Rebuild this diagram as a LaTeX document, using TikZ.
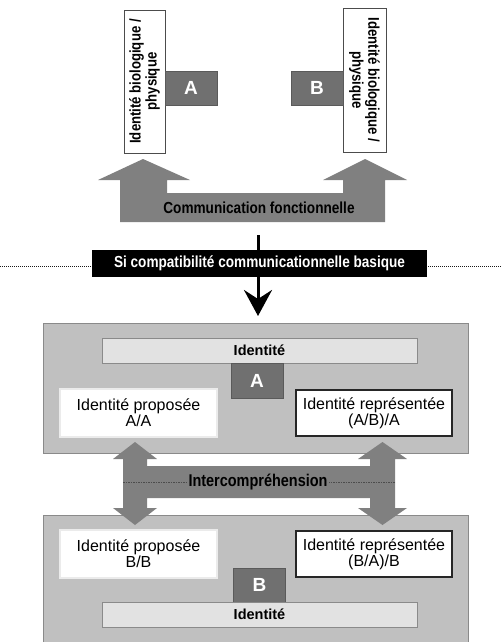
\documentclass[tikz,border=0pt]{standalone}
\usepackage{fontspec}
\setmainfont{Liberation Sans}
\newfontfamily\narrowfont[FakeStretch=0.85]{Liberation Sans}
\usetikzlibrary{arrows.meta}
\definecolor{darkbox}{HTML}{707070}
\definecolor{arrowgray}{HTML}{808080}
\definecolor{panel}{HTML}{C0C0C0}
\definecolor{panelline}{HTML}{8A8A8A}
\definecolor{idbar}{HTML}{E2E2E2}
\tikzset{
  letterbox/.style={draw=darkbox!80!black, fill=darkbox, text=white, inner sep=0pt,
    minimum width=52pt, minimum height=34pt, font=\bfseries\fontsize{19}{19}\selectfont},
  biobox/.style={draw=black!70, fill=white, inner sep=0pt, align=center,
    font=\narrowfont\bfseries\fontsize{15.5}{16}\selectfont},
  panelbox/.style={draw=panelline, fill=panel, line width=0.8pt},
  idbox/.style={draw=panelline, fill=idbar, line width=0.8pt, inner sep=0pt,
    minimum width=315pt, minimum height=25pt, font=\bfseries\fontsize{14.5}{14.5}\selectfont},
  propbox/.style={draw=black!8, fill=white, line width=2pt, inner sep=0pt, align=center,
    minimum width=157pt, minimum height=48pt, font=\fontsize{16}{16}\selectfont},
  reprbox/.style={draw=black!85, fill=white, line width=2pt, inner sep=0pt, align=center,
    minimum width=156pt, minimum height=46pt, font=\fontsize{16}{16}\selectfont},
  bigarrow/.style={fill=arrowgray, draw=none},
}
\begin{document}
\begin{tikzpicture}[x=1pt,y=-1pt]
\useasboundingbox (0,0) rectangle (501,642);
% ---------- top part ----------
\node[biobox, rotate=90, minimum width=143pt, minimum height=41pt] (bioA) at (144.5,81.5)
  {Identité biologique /\\physique};
\node[biobox, rotate=-90, minimum width=144pt, minimum height=43pt] (bioB) at (364.5,80)
  {Identité biologique /\\physique};
\node[letterbox] (Atop) at (191,88) {A};
\node[letterbox] (Btop) at (317,88) {B};
% U-shaped arrow
\path[bigarrow] (120,222) -- (385,222) -- (385,180) -- (407,180) -- (365,159) -- (323,180)
  -- (343,180) -- (343,193) -- (167,193) -- (167,180) -- (190,180) -- (143,159) -- (98,180)
  -- (120,180) -- cycle;
\node[font=\narrowfont\bfseries\fontsize{16}{16}\selectfont] (comm) at (259,208) {Communication fonctionnelle};
% ---------- condition ----------
\coordinate (dotL) at (0,266);
\coordinate (dotR) at (501,266);
\draw[black!90, line width=1pt, dash pattern=on 1pt off 1pt] (dotL) -- (dotR);
\coordinate (arrS) at (258,235);
\coordinate (arrT) at (258,316);
\draw[line width=3pt, -{Stealth[length=26pt,width=28pt,inset=9pt]}] (arrS) -- (arrT);
\node[fill=black, text=white, inner sep=0pt, minimum width=335pt, minimum height=27pt,
  font=\narrowfont\bfseries\fontsize{16}{16}\selectfont] (cond) at (259.5,263.5)
  {Si compatibilité communicationnelle basique};
% ---------- panels ----------
\path[panelbox] (43,323) rectangle (468,453);
\path[panelbox] (43,515) rectangle (468,650);
\node[idbox] (idA) at (259.5,350.5) {Identité};
\node[letterbox, minimum height=35pt] (Amid) at (257,380.5) {A};
\node[propbox] (propA) at (138.5,413) {Identité proposée\\A/A};
\node[reprbox] (reprA) at (374,413) {Identité représentée\\(A/B)/A};
\node[propbox] (propB) at (138.5,554) {Identité proposée\\B/B};
\node[reprbox] (reprB) at (374,554) {Identité représentée\\(B/A)/B};
\node[letterbox] (Bmid) at (259.5,585) {B};
\node[idbox] (idB) at (259.5,614.5) {Identité};
% double arrow
\path[bigarrow] (135,442) -- (157,459) -- (147,459) -- (147,466) -- (370,466) -- (370,459)
  -- (358,459) -- (382.5,442) -- (407,459) -- (395,459) -- (395,508) -- (407,508)
  -- (382.5,525) -- (358,508) -- (370,508) -- (370,498) -- (147,498) -- (147,508)
  -- (157,508) -- (135,525) -- (113,508) -- (123,508) -- (123,459) -- (113,459) -- cycle;
\coordinate (dashL) at (123,482);
\coordinate (dashR) at (395,482);
\draw[black!70, line width=0.6pt, dash pattern=on 1.5pt off 1pt] (dashL) -- (dashR);
\node[fill=arrowgray, inner sep=2pt, font=\narrowfont\bfseries\fontsize{17}{17}\selectfont] (inter) at (258,482) {Intercompréhension};
\end{tikzpicture}
\end{document}
